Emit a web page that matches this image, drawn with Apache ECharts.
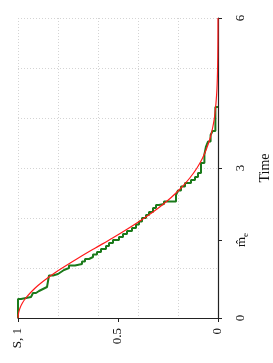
<!DOCTYPE html>
<html>
<head>
<meta charset="utf-8">
<script src="https://cdn.jsdelivr.net/npm/echarts@6/dist/echarts.min.js"></script>
<style>
html,body{margin:0;padding:0;background:#fff;}
#chart{width:273px;height:363px;}
</style>
</head>
<body>
<div id="chart"></div>
<script>
// Kaplan-Meier estimate: event times and survival after each event
const kmTime = [0.38,0.42,0.46,0.50,0.54,0.58,0.62,0.65,0.85,0.88,0.92,0.96,1.00,1.05,1.08,1.13,1.18,1.22,1.27,1.32,1.38,1.44,1.50,1.56,1.62,1.68,1.74,1.80,1.87,1.93,2.00,2.06,2.12,2.20,2.26,2.28,2.33,2.46,2.55,2.63,2.70,2.76,2.82,2.90,3.10,3.27,3.43,3.53,3.66,3.74,4.22];
const kmSurv = [0.985,0.935,0.925,0.91,0.895,0.875,0.855,0.845,0.825,0.80,0.785,0.77,0.745,0.715,0.68,0.665,0.645,0.625,0.605,0.585,0.56,0.545,0.525,0.495,0.475,0.455,0.43,0.41,0.395,0.38,0.36,0.345,0.325,0.31,0.295,0.27,0.21,0.20,0.185,0.165,0.135,0.115,0.10,0.085,0.068,0.06,0.05,0.037,0.027,0.013,0];
// Smooth fitted survival curve
const fitTime = [0,0.1,0.2,0.3,0.4,0.5,0.6,0.7,0.8,0.9,1.0,1.2,1.4,1.6,1.8,2.0,2.2,2.4,2.6,2.8,3.0,3.2,3.4,3.6,3.8,4.0,4.3,4.6,5.0,5.5,6.0];
const fitSurv = [1.0,0.997,0.990,0.978,0.961,0.939,0.914,0.885,0.852,0.817,0.779,0.698,0.613,0.527,0.445,0.368,0.298,0.237,0.185,0.141,0.105,0.077,0.056,0.039,0.027,0.018,0.010,0.005,0.002,0.0005,0.0];
// Tick labels
const sTickValues = [0, 0.5, 1];
const sTickLabels = ['0', '0.5', 'S, 1'];
const tTickValues = [0, 1.56, 3, 6];
const tTickLabels = ['0', '{m|m\u0302}{e|e}', '3', '6'];
const timeName = 'Time';

const kmPoints = [[1, 0]];
let prev = 1;
for (let i = 0; i < kmTime.length; i++) {
  kmPoints.push([prev, kmTime[i]]);
  kmPoints.push([kmSurv[i], kmTime[i]]);
  prev = kmSurv[i];
}
const fitPoints = fitTime.map((t, i) => [fitSurv[i], t]);

const font = 'Liberation Serif';
const gridLine = {show: true, lineStyle: {color: '#d4d4d4', type: [1, 2], width: 1}};

const chart = echarts.init(document.getElementById('chart'));
chart.setOption({
  animation: false,
  backgroundColor: '#fff',
  grid: {left: 18, top: 18, width: 200, height: 300, containLabel: false, outerBoundsMode: 'none'},
  xAxis: [
    {type: 'value', min: 0, max: 1, interval: 0.2, inverse: true, position: 'bottom',
     axisLine: {show: false}, axisTick: {show: false}, axisLabel: {show: false}, splitLine: gridLine},
    {type: 'value', min: 0, max: 1, inverse: true, position: 'bottom',
     axisLine: {show: true, lineStyle: {color: '#222', width: 1.2}},
     axisTick: {show: true, customValues: sTickValues, length: 4, inside: false, lineStyle: {color: '#222'}},
     axisLabel: {show: true, customValues: sTickValues, rotate: 90, margin: 10,
       fontFamily: font, fontSize: 13, color: '#111',
       formatter: v => { const k = sTickValues.findIndex(x => Math.abs(x - v) < 1e-6); return k >= 0 ? sTickLabels[k] : ''; }},
     splitLine: {show: false}}
  ],
  yAxis: [
    {type: 'value', min: 0, max: 6, interval: 1, position: 'right',
     axisLine: {show: false}, axisTick: {show: false}, axisLabel: {show: false}, splitLine: gridLine},
    {type: 'value', min: 0, max: 6, position: 'right',
     name: timeName, nameLocation: 'middle', nameRotate: 90, nameGap: 38,
     nameTextStyle: {fontFamily: font, fontSize: 14, color: '#111'},
     axisLine: {show: true, lineStyle: {color: '#222', width: 1.2}},
     axisTick: {show: true, customValues: tTickValues, length: 4, inside: false, lineStyle: {color: '#222'}},
     axisLabel: {show: true, customValues: tTickValues, rotate: 90, margin: 16,
       fontFamily: font, fontSize: 13, color: '#111',
       formatter: v => { const k = tTickValues.findIndex(x => Math.abs(x - v) < 1e-6); return k >= 0 ? tTickLabels[k] : ''; },
       rich: {m: {fontFamily: font, fontSize: 13, color: '#111'}, e: {fontFamily: font, fontSize: 9, color: '#111', padding: [7, 0, 0, 0]}}},
     splitLine: {show: false}}
  ],
  series: [
    {type: 'line', xAxisIndex: 1, yAxisIndex: 1, data: kmPoints, showSymbol: false, symbol: 'none',
     lineStyle: {color: '#1b7a1b', width: 2}, z: 3, clip: true},
    {type: 'line', xAxisIndex: 1, yAxisIndex: 1, data: fitPoints, showSymbol: false, symbol: 'none',
     smooth: 0.3, lineStyle: {color: '#ff1a1a', width: 1.2}, z: 4, clip: true}
  ]
});
</script>
</body>
</html>
